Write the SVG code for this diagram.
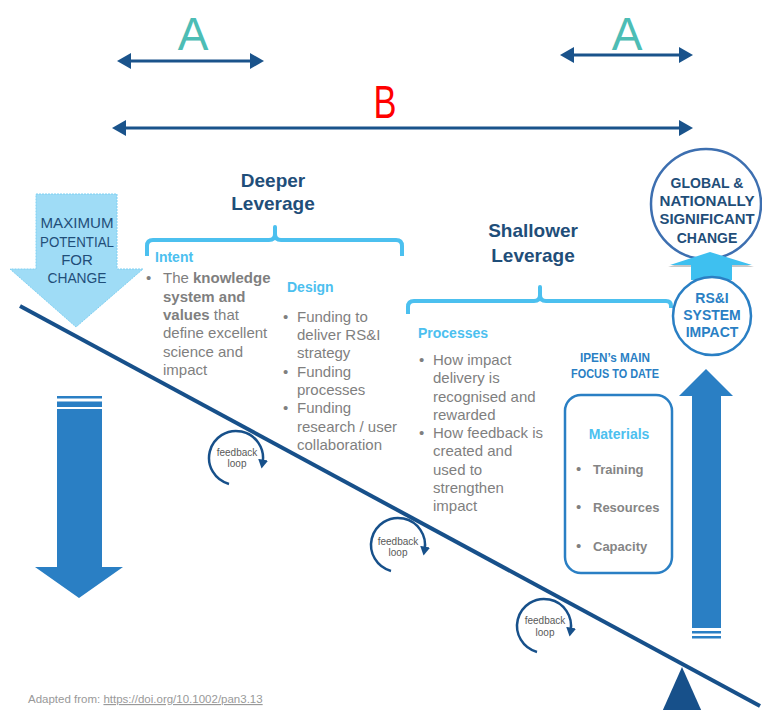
<svg xmlns="http://www.w3.org/2000/svg" width="762" height="710" viewBox="0 0 762 710">
  <defs>
    <style>
      text { font-family: "Liberation Sans", Arial, sans-serif; }
      .body { font-size: 15px; fill: #7f7f7f; }
      .b { font-weight: bold; }
      .head { font-size: 19px; font-weight: bold; fill: #1f4e79; text-anchor: middle; }
      .sub { font-size: 14px; font-weight: bold; fill: #4cc0ef; }
      .bracket { fill: none; stroke: #4cc0ef; stroke-width: 4; stroke-linejoin: round; }
      .span { stroke: #1a538b; stroke-width: 3; fill: none; marker-start: url(#span-head); marker-end: url(#span-head); }
      .loop { fill: none; stroke: #17508a; stroke-width: 2.5; marker-end: url(#loop-head); }
      .loop-t { font-size: 10px; fill: #595959; text-anchor: middle; }
      .bar { fill: #2a7fc4; }
      .mat { font-size: 13px; font-weight: bold; fill: #858585; }
    </style>
    <marker id="span-head" markerUnits="userSpaceOnUse" markerWidth="14" markerHeight="16" refX="4" refY="8" orient="auto-start-reverse">
      <path d="M0,0 L14,8 L0,16 Z" fill="#1a538b"/>
    </marker>
    <marker id="loop-head" markerUnits="userSpaceOnUse" markerWidth="10" markerHeight="10" refX="3" refY="5" orient="auto">
      <path d="M0,0 L9,5 L0,10 Z" fill="#17508a"/>
    </marker>
  </defs>

  <!-- spans A / B -->
  <g id="spans">
    <line class="span" x1="127" y1="61" x2="254" y2="61"/>
    <line class="span" x1="570" y1="55" x2="683" y2="55"/>
    <line class="span" x1="122" y1="128" x2="683" y2="128"/>
    <text x="193" y="50" font-size="46" fill="#4dbdb5" text-anchor="middle">A</text>
    <text x="627" y="50" font-size="46" fill="#4dbdb5" text-anchor="middle">A</text>
    <text x="0" y="0" font-size="46" fill="#ff0000" text-anchor="middle" transform="translate(385,118) scale(0.75,1)">B</text>
  </g>

  <!-- fulcrum and lever -->
  <g id="lever">
    <polygon points="682,667 662,712 702,712" fill="#17508a"/>
    <line x1="20" y1="306" x2="760" y2="706" stroke="#17508a" stroke-width="4"/>
  </g>

  <!-- maximum potential arrow -->
  <g id="max-potential">
    <polygon points="36,194 117,194 117,269 143,269 76,327 10,269 36,269" fill="#9fdcf6" stroke="#7fd0f2" stroke-width="1" stroke-dasharray="2,1"/>
    <g font-size="15" fill="#1f4e79" text-anchor="middle">
      <text x="77" y="228" textLength="73" lengthAdjust="spacingAndGlyphs">MAXIMUM</text>
      <text x="77" y="247" textLength="74" lengthAdjust="spacingAndGlyphs">POTENTIAL</text>
      <text x="77" y="265">FOR</text>
      <text x="77" y="283" textLength="59" lengthAdjust="spacingAndGlyphs">CHANGE</text>
    </g>
  </g>

  <!-- downward arrow -->
  <g id="down-arrow">
    <rect class="bar" x="57" y="396" width="45" height="2.5"/>
    <rect class="bar" x="57" y="401.5" width="45" height="5.5"/>
    <polygon class="bar" points="57,409 102,409 102,567 123,567 79,598 35,567 57,567"/>
  </g>

  <!-- upward arrow -->
  <g id="up-arrow">
    <polygon class="bar" points="706,369 733,396 721,396 721,628 692,628 692,396 679,396"/>
    <rect class="bar" x="692" y="631" width="29" height="2.5"/>
    <rect class="bar" x="692" y="636" width="29" height="2.5"/>
  </g>

  <!-- deeper leverage -->
  <g id="deeper">
    <text class="head" x="273" y="187">Deeper</text>
    <text class="head" x="273" y="210">Leverage</text>
    <path class="bracket" d="M147,256 V246 Q147,240 153,240 H269 Q275,240 275,234 V227 V234 Q275,240 281,240 H396 Q402,240 402,246 V256"/>
  </g>

  <g id="intent">
    <text class="sub" x="155" y="262">Intent</text>
    <text class="body" x="146" y="283">•</text>
    <text class="body" x="163" y="283">The <tspan class="b">knowledge</tspan></text>
    <text class="body b" x="163" y="301.5">system and</text>
    <text class="body" x="163" y="320"><tspan class="b">values</tspan> that</text>
    <text class="body" x="163" y="338">define excellent</text>
    <text class="body" x="163" y="356.5">science and</text>
    <text class="body" x="163" y="375">impact</text>
  </g>

  <g id="design">
    <text class="sub" x="287" y="292">Design</text>
    <text class="body" x="283" y="322">•</text>
    <text class="body" x="297" y="322">Funding to</text>
    <text class="body" x="297" y="340">deliver RS&amp;I</text>
    <text class="body" x="297" y="358">strategy</text>
    <text class="body" x="283" y="377">•</text>
    <text class="body" x="297" y="377">Funding</text>
    <text class="body" x="297" y="395">processes</text>
    <text class="body" x="283" y="413">•</text>
    <text class="body" x="297" y="413">Funding</text>
    <text class="body" x="297" y="432">research / user</text>
    <text class="body" x="297" y="450">collaboration</text>
  </g>

  <!-- shallower leverage -->
  <g id="shallower">
    <text class="head" x="533" y="237">Shallower</text>
    <text class="head" x="533" y="262">Leverage</text>
    <path class="bracket" d="M408,314 V307 Q408,301 414,301 H534 Q540,301 540,295 V287 V295 Q540,301 546,301 H666 Q671,301 671,306 V308"/>
  </g>

  <g id="processes">
    <text class="sub" x="418" y="338">Processes</text>
    <text class="body" x="419" y="365">•</text>
    <text class="body" x="433" y="365">How impact</text>
    <text class="body" x="433" y="383">delivery is</text>
    <text class="body" x="433" y="402">recognised and</text>
    <text class="body" x="433" y="420">rewarded</text>
    <text class="body" x="419" y="438">•</text>
    <text class="body" x="433" y="438">How feedback is</text>
    <text class="body" x="433" y="456">created and</text>
    <text class="body" x="433" y="475">used to</text>
    <text class="body" x="433" y="493">strengthen</text>
    <text class="body" x="433" y="511">impact</text>
  </g>

  <g id="ipen-focus">
    <text x="615" y="362" font-size="13" font-weight="bold" fill="#2a7fc4" text-anchor="middle" textLength="70" lengthAdjust="spacingAndGlyphs">IPEN’s MAIN</text>
    <text x="615" y="378" font-size="13" font-weight="bold" fill="#2a7fc4" text-anchor="middle" textLength="88" lengthAdjust="spacingAndGlyphs">FOCUS TO DATE</text>
  </g>

  <g id="materials">
    <rect x="565" y="395" width="107" height="178" rx="16" fill="#ffffff" stroke="#2a7fc4" stroke-width="2.5"/>
    <text class="sub" x="619" y="439" text-anchor="middle">Materials</text>
    <text class="body" x="576" y="474">•</text>
    <text class="mat" x="593" y="474">Training</text>
    <text class="body" x="576" y="512">•</text>
    <text class="mat" x="593" y="512">Resources</text>
    <text class="body" x="576" y="551">•</text>
    <text class="mat" x="593" y="551">Capacity</text>
  </g>

  <!-- impact circles -->
  <g id="global-change">
    <circle cx="706" cy="204" r="55" fill="#ffffff" stroke="#3d6fb0" stroke-width="2.5"/>
    <g font-size="14" font-weight="bold" fill="#1f4e79" text-anchor="middle">
      <text x="707" y="188">GLOBAL &amp;</text>
      <text x="707" y="206" textLength="95" lengthAdjust="spacingAndGlyphs">NATIONALLY</text>
      <text x="707" y="224" textLength="95" lengthAdjust="spacingAndGlyphs">SIGNIFICANT</text>
      <text x="707" y="243">CHANGE</text>
    </g>
  </g>

  <g id="lift-arrow">
    <polygon points="710,254 754,267 732,267 732,280 691,280 691,267 668,267" fill="#c8c8c8"/>
    <polygon points="710,252 752,265 732,265 732,280 691,280 691,265 670,265" fill="#3ec0f0"/>
  </g>

  <g id="system-impact">
    <circle cx="712" cy="316" r="39" fill="#ffffff" stroke="#2a7fc4" stroke-width="2.5"/>
    <g font-size="14" font-weight="bold" fill="#2a7fc4" text-anchor="middle">
      <text x="712" y="303">RS&amp;I</text>
      <text x="712" y="320">SYSTEM</text>
      <text x="712" y="337">IMPACT</text>
    </g>
  </g>

  <!-- feedback loops -->
  <g id="loops">
    <g id="loop-1">
      <path class="loop" d="M229,484 A27,27 0 1 1 262.6,462.7"/>
      <text class="loop-t" x="237" y="456">feedback</text>
      <text class="loop-t" x="237" y="467">loop</text>
    </g>
    <g id="loop-2">
      <path class="loop" d="M391,571 A27,27 0 1 1 424.6,549.7"/>
      <text class="loop-t" x="398" y="545">feedback</text>
      <text class="loop-t" x="398" y="556">loop</text>
    </g>
    <g id="loop-3">
      <path class="loop" d="M537,652 A27,27 0 1 1 570.6,630.7"/>
      <text class="loop-t" x="545" y="624">feedback</text>
      <text class="loop-t" x="545" y="636">loop</text>
    </g>
  </g>

  <!-- source note -->
  <g id="source">
    <text x="28" y="703" font-size="11.5" fill="#999999">Adapted from:  <tspan text-decoration="underline">https://doi.org/10.1002/pan3.13</tspan></text>
  </g>
</svg>
